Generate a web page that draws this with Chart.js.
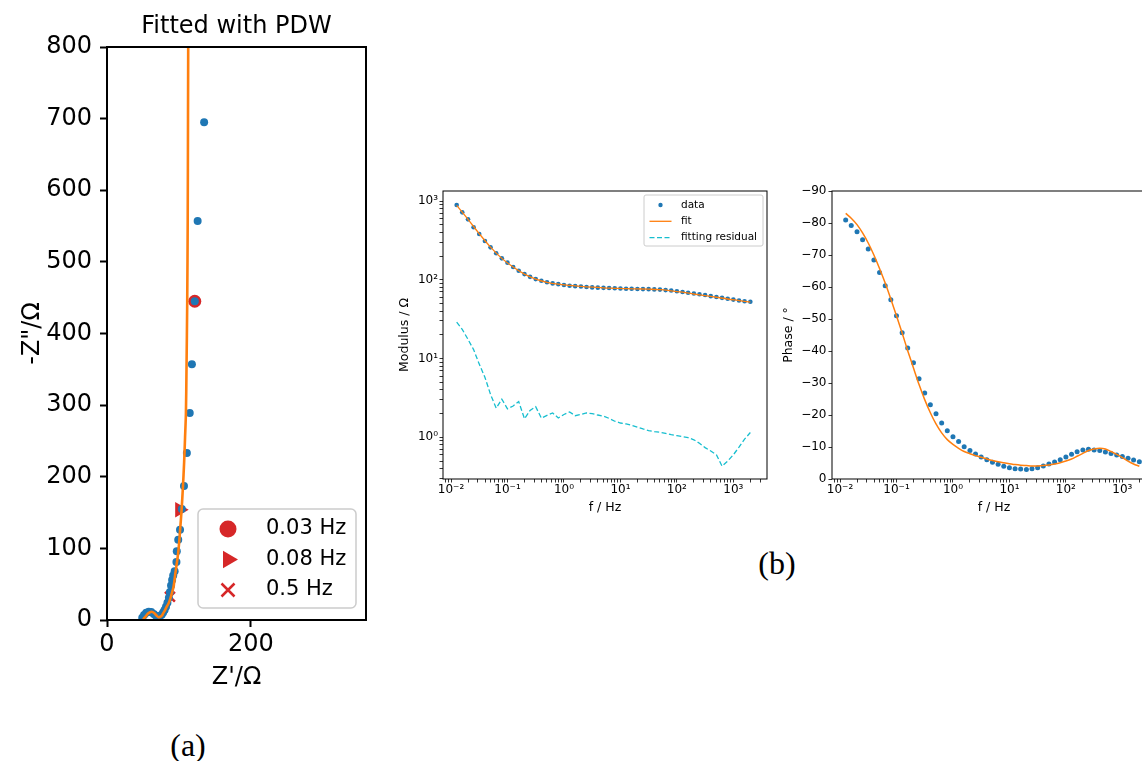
<!DOCTYPE html>
<html>
<head>
<meta charset="utf-8">
<script src="https://cdn.jsdelivr.net/npm/chart.js@4.4.0/dist/chart.umd.min.js"></script>
<style>
  html, body { margin: 0; padding: 0; background: #fff; }
  body { width: 1142px; height: 761px; position: relative; overflow: hidden; }
  canvas { position: absolute; }
  .tag { position: absolute; font-family: "Liberation Serif", serif; font-size: 32px; color: #000;
         transform: translate(-50%, -50%); white-space: nowrap; }
</style>
</head>
<body>
<canvas id="nyquist" width="380" height="700" style="left:0;top:0"></canvas>
<canvas id="modulus" width="400" height="350" style="left:380px;top:170px"></canvas>
<canvas id="phase" width="385" height="350" style="left:780px;top:170px"></canvas>
<div class="tag" style="left:188px;top:745px">(a)</div>
<div class="tag" style="left:777px;top:563px">(b)</div>
<script>
// === Panel (a): Nyquist data ===
const nyqDataRe = [49, 51.5, 54.5, 58, 61.5, 65, 68, 71, 73.5, 76, 78, 80, 82, 84, 86, 87.5, 89, 90.5,
                   92, 94, 96.5, 97, 99, 101.5, 104, 107, 111, 115, 118, 122, 126, 135, 140];
const nyqDataIm = [3, 7, 10, 11.5, 11, 8.5, 6, 5, 5.5, 7.5, 10.5, 14, 18.5, 24, 31, 39, 48, 56,
                   62, 68, 81, 96, 112, 126, 155, 187, 233, 289, 357, 445, 557, 695, 875];
const nyqFitRe = [50, 53, 57, 62, 66, 69, 71.5, 74, 76.5, 78, 80.5, 83, 85.5, 87.5, 90, 92.5, 95, 99,
                  101.5, 103.7, 105.5, 107.2, 108.5, 109.7, 110.5, 111.5, 112.2, 112.6, 113];
const nyqFitIm = [1, 4, 9, 11.6, 9.5, 6, 4, 4.5, 6.5, 9.3, 13.5, 18.6, 23, 28, 37, 46.5, 65, 94,
                  124, 154, 185, 220, 255, 289, 350, 444, 560, 700, 850];
const markerLabels = ["0.03 Hz", "0.08 Hz", "0.5 Hz"];
const markerRe = [122, 101, 87.5];
const markerIm = [445, 154, 32.5];
const nyqTicksX = [0, 200];
const nyqTicksY = [0, 100, 200, 300, 400, 500, 600, 700, 800];

// === Panel (b): Bode data ===
const freq = [0.0126, 0.0158, 0.02, 0.0251, 0.0316, 0.0398, 0.0501, 0.0631, 0.0794, 0.1,
              0.126, 0.158, 0.2, 0.251, 0.316, 0.398, 0.501, 0.631, 0.794, 1,
              1.26, 1.58, 2, 2.51, 3.16, 3.98, 5.01, 6.31, 7.94, 10,
              12.6, 15.8, 20, 25.1, 31.6, 39.8, 50.1, 63.1, 79.4, 100,
              126, 158, 200, 251, 316, 398, 501, 631, 794, 1000,
              1260, 1580, 2000];
const modulusData = [890, 718, 585, 464, 381, 311, 258, 217, 187, 165,
                     145, 130, 118, 109, 102, 97, 93, 90, 88, 86,
                     84, 83, 82, 81, 80, 79.5, 79, 78.5, 78, 77.5,
                     77, 76.8, 76.5, 76.2, 76, 75.5, 75, 74, 73, 71.5,
                     70, 68.5, 67, 65.5, 64, 62, 60.5, 59, 57.5, 56,
                     54.5, 53.5, 52.5];
const residual = [29, 23.5, 17.5, 13, 8.5, 5.8, 3.5, 2.35, 3.05, 2.3,
                  2.5, 2.85, 1.72, 2.2, 2.45, 1.75, 1.9, 2.04, 1.76, 1.95,
                  2.1, 1.88, 1.95, 2.04, 2.0, 1.92, 1.86, 1.74, 1.6, 1.52,
                  1.48, 1.42, 1.35, 1.28, 1.22, 1.18, 1.16, 1.12, 1.08, 1.05,
                  1.02, 0.99, 0.93, 0.84, 0.74, 0.67, 0.6, 0.43, 0.5, 0.6,
                  0.75, 0.95, 1.15];
const phaseData = [-80.9, -79.2, -77.3, -74.8, -71.9, -68.4, -64.5, -60.4, -56.0, -51.0,
                   -45.7, -40.9, -36.3, -31.3, -26.9, -23.2, -20.4, -17.5, -15.1, -13.2,
                   -11.7, -10.1, -8.9, -7.8, -6.9, -6.0, -5.2, -4.6, -4.0, -3.5,
                   -3.2, -3.1, -3.0, -3.2, -3.5, -4.1, -4.7, -5.3, -6.0, -6.9,
                   -7.7, -8.5, -9.1, -9.3, -9.1, -8.9, -8.4, -8.0, -7.5, -7.0,
                   -6.5, -5.9, -5.4];
const phaseFit = [-83.0, -81.5, -79.5, -76.9, -73.75, -70.0, -65.8, -61.25, -56.25, -51.0,
                  -45.6, -40.1, -34.7, -29.5, -24.8, -20.7, -17.2, -14.4, -12.3, -10.8,
                  -9.6, -8.6, -7.9, -7.3, -6.8, -6.25, -5.8, -5.4, -5.1, -4.8,
                  -4.5, -4.3, -4.2, -4.1, -4.1, -4.2, -4.4, -4.7, -5.1, -5.6,
                  -6.25, -7.1, -8.0, -8.9, -9.4, -9.6, -9.4, -8.6, -7.7, -6.7,
                  -5.6, -4.7, -4.0];
const fitFreq = [0.0126, 0.02, 0.0316, 0.0501, 0.0794, 0.126, 0.2, 0.316, 0.501, 0.794,
                 1.26, 2, 3.16, 5.01, 7.94, 12.6, 20, 31.6, 50.1, 79.4,
                 126, 200, 316, 501, 794, 1260, 2000];
const modulusFit = [880, 585, 385, 260, 187, 145, 118, 102, 93, 88,
                    85, 82.5, 80.5, 79, 78, 77, 76.5, 76, 75, 72.5,
                    69.5, 66, 63, 60, 57, 54.5, 52];
const decadeTicks = [0.01, 0.1, 1, 10, 100, 1000];
const decadeLabels = ["10\u207B\u00B2", "10\u207B\u00B9", "10\u2070", "10\u00B9", "10\u00B2", "10\u00B3"];
const modTicksY = [1, 10, 100, 1000];
const modLabelsY = ["10\u2070", "10\u00B9", "10\u00B2", "10\u00B3"];
const phaseTicks = [-90, -80, -70, -60, -50, -40, -30, -20, -10, 0];

const BLUE = "#1f77b4", ORANGE = "#ff7f0e", RED = "#d62728", CYAN = "#17becf";
const FONT = "'DejaVu Sans', sans-serif";
Chart.defaults.font.family = FONT;
Chart.defaults.color = "#000";
Chart.defaults.animation = false;

const pts = (xs, ys) => xs.map((x, i) => ({x: x, y: ys[i]}));

// log axis: decade ticks plus 2..9 minors inside [lo, hi]
function logTicks(lo, hi) {
  const out = [];
  for (let e = Math.floor(Math.log10(lo)); e <= Math.ceil(Math.log10(hi)); e++) {
    for (let m = 1; m <= 9; m++) {
      const v = m * Math.pow(10, e);
      if (v >= lo && v <= hi) out.push({value: v});
    }
  }
  return out;
}
function labelFor(v, majors, labels) {
  const k = majors.findIndex(t => Math.abs(Math.log10(t) - Math.log10(v)) < 1e-6);
  return k >= 0 ? labels[k] : "";
}

// box around the plot area, like matplotlib spines
const framePlugin = {
  id: "frame",
  afterDatasetsDraw(chart, args, o) {
    const {ctx, chartArea: a} = chart;
    ctx.save();
    ctx.strokeStyle = "#000";
    ctx.lineWidth = o.width || 1;
    ctx.strokeRect(a.left, a.top, a.right - a.left, a.bottom - a.top);
    ctx.restore();
  }
};

const titlePlugin = {
  id: "topTitle",
  afterDraw(chart, args, o) {
    if (!o.text) return;
    const {ctx, chartArea: a} = chart;
    ctx.save();
    ctx.font = o.size + "px " + FONT;
    ctx.fillStyle = "#000";
    ctx.textAlign = "center";
    ctx.textBaseline = "alphabetic";
    ctx.fillText(o.text, (a.left + a.right) / 2, o.baseline);
    ctx.restore();
  }
};

function drawMarker(ctx, it, x, y) {
  const s = it.size;
  ctx.beginPath();
  ctx.fillStyle = it.color;
  ctx.strokeStyle = it.color;
  if (it.kind === "circle") {
    ctx.arc(x, y, s, 0, Math.PI * 2); ctx.fill();
  } else if (it.kind === "triangle") {
    ctx.moveTo(x + s, y); ctx.lineTo(x - s / 2, y - s * 0.866); ctx.lineTo(x - s / 2, y + s * 0.866);
    ctx.closePath(); ctx.fill();
  } else if (it.kind === "x") {
    ctx.lineWidth = 2.5;
    ctx.moveTo(x - s, y - s); ctx.lineTo(x + s, y + s);
    ctx.moveTo(x + s, y - s); ctx.lineTo(x - s, y + s);
    ctx.stroke();
  } else {
    ctx.lineWidth = 1.3;
    ctx.setLineDash(it.kind === "dash" ? [5, 2.5] : []);
    ctx.moveTo(x - s, y); ctx.lineTo(x + s, y);
    ctx.stroke();
    ctx.setLineDash([]);
  }
}

const boxLegend = {
  id: "boxLegend",
  afterDraw(chart, args, o) {
    if (!o.items) return;
    const {ctx, chartArea: a} = chart;
    const x0 = a.right - o.right - o.width;
    const y0 = o.top !== undefined ? a.top + o.top : a.bottom - o.bottom - o.height;
    ctx.save();
    ctx.beginPath();
    ctx.roundRect(x0, y0, o.width, o.height, o.radius);
    ctx.fillStyle = "rgba(255,255,255,0.8)";
    ctx.fill();
    ctx.strokeStyle = "#cccccc";
    ctx.lineWidth = o.lineWidth;
    ctx.stroke();
    o.items.forEach((it, i) => {
      const cy = y0 + o.firstRow + i * o.rowGap;
      drawMarker(ctx, it, x0 + o.markerX, cy);
      ctx.font = o.fontSize + "px " + FONT;
      ctx.textBaseline = "middle";
      ctx.fillStyle = "#000";
      ctx.fillText(it.label, x0 + o.textX, cy);
    });
    ctx.restore();
  }
};

const plugins = [framePlugin, titlePlugin, boxLegend];

// === (a) Nyquist plot ===
new Chart(document.getElementById("nyquist"), {
  type: "scatter",
  data: {
    datasets: [
      { label: "fit", data: pts(nyqFitRe, nyqFitIm), showLine: true, borderColor: ORANGE,
        borderWidth: 2.6, pointRadius: 0, tension: 0.3, order: 0 },
      { label: "data", data: pts(nyqDataRe, nyqDataIm), backgroundColor: BLUE, borderWidth: 0,
        pointRadius: 4, order: 1 },
      { label: markerLabels[0], data: [{x: markerRe[0], y: markerIm[0]}], pointStyle: "circle",
        backgroundColor: RED, borderWidth: 0, pointRadius: 6.5, order: 2 },
      { label: markerLabels[1], data: [{x: markerRe[1], y: markerIm[1]}], pointStyle: "triangle",
        rotation: 90, backgroundColor: RED, borderWidth: 0, pointRadius: 9, order: 3 },
      { label: markerLabels[2], data: [{x: markerRe[2], y: markerIm[2]}], pointStyle: "crossRot",
        borderColor: RED, borderWidth: 2.5, pointRadius: 7, order: 4 }
    ]
  },
  options: {
    responsive: false,
    layout: { padding: { left: 0, right: 14, top: 47, bottom: 0 } },
    plugins: {
      legend: { display: false },
      tooltip: { enabled: false },
      frame: { width: 2 },
      topTitle: { text: "Fitted with PDW", size: 24, baseline: 33 },
      boxLegend: {
        right: 10, bottom: 12, width: 158, height: 99, radius: 5, lineWidth: 1.5,
        markerX: 30, textX: 68, firstRow: 20, rowGap: 30.5, fontSize: 21,
        items: [
          { label: markerLabels[0], kind: "circle", color: RED, size: 8.5 },
          { label: markerLabels[1], kind: "triangle", color: RED, size: 10 },
          { label: markerLabels[2], kind: "x", color: RED, size: 6.5 }
        ]
      }
    },
    scales: {
      x: {
        type: "linear", min: 0, max: 360,
        afterBuildTicks: s => { s.ticks = nyqTicksX.map(v => ({value: v})); },
        afterFit: s => { s.height = 80; },
        ticks: { font: { size: 24 }, color: "#000", padding: 3, autoSkip: false, maxRotation: 0 },
        grid: { display: true, drawOnChartArea: false, tickLength: 7, tickWidth: 2, tickColor: "#000" },
        border: { display: false },
        title: { display: true, text: "Z'/\u03A9", font: { size: 24 }, color: "#000",
                 padding: { top: 0, bottom: 8 } }
      },
      y: {
        type: "linear", min: 0, max: 800,
        afterBuildTicks: s => { s.ticks = nyqTicksY.map(v => ({value: v})); },
        afterFit: s => { s.width = 107; },
        ticks: { font: { size: 24 }, color: "#000", padding: 8, autoSkip: false },
        grid: { display: true, drawOnChartArea: false, tickLength: 7, tickWidth: 2, tickColor: "#000" },
        border: { display: false },
        title: { display: true, text: "-Z\"/\u03A9", font: { size: 24 }, color: "#000",
                 padding: { top: 18, bottom: 0 } }
      }
    }
  },
  plugins: plugins
});

// shared frequency axis for the two Bode panels
const fMin = Math.pow(10, -2.142), fMax = Math.pow(10, 3.596);
function freqAxis() {
  return {
    type: "logarithmic", min: fMin, max: fMax,
    afterBuildTicks: s => { s.ticks = logTicks(fMin, fMax); },
    afterFit: s => { s.height = 41; },
    ticks: { font: { size: 12 }, color: "#000", padding: 0, autoSkip: false, maxRotation: 0,
             callback: v => labelFor(v, decadeTicks, decadeLabels) },
    grid: { display: true, drawOnChartArea: false, tickLength: 3.5, tickWidth: 0.8, tickColor: "#000" },
    border: { display: false },
    title: { display: true, text: "f / Hz", font: { size: 12.5 }, color: "#000",
             padding: { top: 0, bottom: 4.5 } }
  };
}

// === (b) Modulus ===
const mMin = Math.pow(10, -0.529), mMax = Math.pow(10, 3.127);
new Chart(document.getElementById("modulus"), {
  type: "scatter",
  data: {
    datasets: [
      { label: "fit", data: pts(fitFreq, modulusFit), showLine: true, borderColor: ORANGE,
        borderWidth: 1.3, pointRadius: 0, tension: 0.35, order: 0 },
      { label: "data", data: pts(freq, modulusData), backgroundColor: BLUE, borderWidth: 0,
        pointRadius: 2.3, order: 1 },
      { label: "fitting residual", data: pts(freq, residual), showLine: true, borderColor: CYAN,
        borderWidth: 1.3, borderDash: [5, 2.5], pointRadius: 0, order: 2 }
    ]
  },
  options: {
    responsive: false,
    layout: { padding: { left: 0, right: 13, top: 21, bottom: 0 } },
    plugins: {
      legend: { display: false },
      tooltip: { enabled: false },
      frame: { width: 1 },
      boxLegend: {
        right: 4, top: 4, width: 119, height: 51, radius: 2, lineWidth: 1,
        markerX: 16.5, textX: 37, firstRow: 10, rowGap: 16.3, fontSize: 10.5,
        items: [
          { label: "data", kind: "circle", color: BLUE, size: 2.2 },
          { label: "fit", kind: "line", color: ORANGE, size: 11 },
          { label: "fitting residual", kind: "dash", color: CYAN, size: 11 }
        ]
      }
    },
    scales: {
      x: freqAxis(),
      y: {
        type: "logarithmic", min: mMin, max: mMax,
        afterBuildTicks: s => { s.ticks = logTicks(mMin, mMax); },
        afterFit: s => { s.width = 63; },
        ticks: { font: { size: 12 }, color: "#000", padding: 1.5, autoSkip: false,
                 callback: v => labelFor(v, modTicksY, modLabelsY) },
        grid: { display: true, drawOnChartArea: false, tickLength: 3.5, tickWidth: 0.8, tickColor: "#000" },
        border: { display: false },
        title: { display: true, text: "Modulus / \u03A9", font: { size: 12.5 }, color: "#000",
                 padding: { top: 17.5, bottom: 0 } }
      }
    }
  },
  plugins: plugins
});

// === (b) Phase ===
new Chart(document.getElementById("phase"), {
  type: "scatter",
  data: {
    datasets: [
      { label: "fit", data: pts(freq, phaseFit), showLine: true, borderColor: ORANGE,
        borderWidth: 1.5, pointRadius: 0, tension: 0.3, order: 0 },
      { label: "data", data: pts(freq, phaseData), backgroundColor: BLUE, borderWidth: 0,
        pointRadius: 2.5, order: 1 }
    ]
  },
  options: {
    responsive: false,
    layout: { padding: { left: 0, right: 9, top: 21, bottom: 0 } },
    plugins: {
      legend: { display: false },
      tooltip: { enabled: false },
      frame: { width: 1 }
    },
    scales: {
      x: freqAxis(),
      y: {
        type: "linear", min: -90, max: 0, reverse: true,
        afterBuildTicks: s => { s.ticks = phaseTicks.map(v => ({value: v})); },
        afterFit: s => { s.width = 52; },
        ticks: { font: { size: 12 }, color: "#000", padding: 2, autoSkip: false,
                 callback: v => (v < 0 ? "\u2212" + Math.abs(v) : String(v)) },
        grid: { display: true, drawOnChartArea: false, tickLength: 3.5, tickWidth: 0.8, tickColor: "#000" },
        border: { display: false },
        title: { display: true, text: "Phase / \u00B0", font: { size: 12.5 }, color: "#000",
                 padding: { top: 1.5, bottom: 0 } }
      }
    }
  },
  plugins: plugins
});
</script>
</body>
</html>
